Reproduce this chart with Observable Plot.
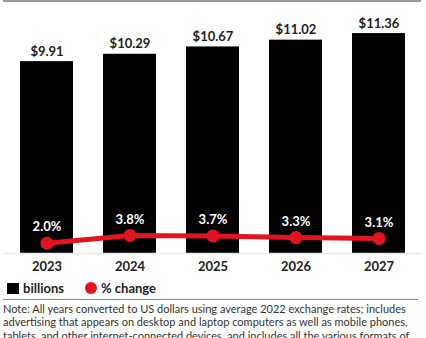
<!DOCTYPE html>
<html>
<head>
<meta charset="utf-8">
<script src="https://cdn.jsdelivr.net/npm/d3@7"></script>
<script src="https://cdn.jsdelivr.net/npm/@observablehq/plot@0.6"></script>
<style>
  body { margin: 0; background: #fff; font-family: Lato, "Open Sans", sans-serif; width: 426px; height: 338px; overflow: hidden; position: relative; }
  #topline { position: absolute; left: 3px; top: 0; width: 418px; height: 2px; background: #9a9a9a; }
  #chart { position: absolute; left: 0; top: 0; }
  #legend { position: absolute; left: 7px; top: 280px; display: flex; align-items: center; font-size: 13px; font-weight: 700; color: #222; }
  .sw { display: inline-block; width: 12px; height: 11px; background: #000; margin-right: 4px; }
  .dotsw { display: inline-block; width: 12px; height: 12px; border-radius: 50%; background: #e3141f; margin-left: 21px; margin-right: 4px; }
  #sep { position: absolute; left: 3px; top: 299px; width: 415px; height: 1px; background: #8c8c8c; }
  #note { position: absolute; left: 3px; top: 302px; width: 420px; font-size: 11px; line-height: 13.3px; color: #333; white-space: nowrap; }
</style>
</head>
<body>
<div id="chart"></div>
<div id="topline"></div>
<div id="legend"><span class="sw"></span><span>billions</span><span class="dotsw"></span><span>% change</span></div>
<div id="sep"></div>
<div id="note"></div>
<script>
const years = ["2023", "2024", "2025", "2026", "2027"];
const billions = [9.91, 10.29, 10.67, 11.02, 11.36];
const pctChange = [2.0, 3.8, 3.7, 3.3, 3.1];
const noteLines = [
  "Note: All years converted to US dollars using average 2022 exchange rates; includes",
  "advertising that appears on desktop and laptop computers as well as mobile phones,",
  "tablets, and other internet-connected devices, and includes all the various formats of"
];

document.getElementById("note").innerHTML = noteLines.join("<br>");

const rows = years.map((y, i) => ({year: y, billions: billions[i], pct: pctChange[i]}));
// secondary (% change) axis mapped onto the billions scale
const pctY = p => (p + 0.4) * 0.222;

const red = "#e3141f";
const chart = Plot.plot({
  width: 426,
  height: 278,
  marginTop: 11,
  marginBottom: 25,
  marginLeft: 4,
  marginRight: 4.5,
  style: {fontFamily: "Lato, sans-serif", background: "transparent"},
  x: {domain: years, paddingInner: 0.365, paddingOuter: 0.183, label: null},
  y: {domain: [0, 12.5], axis: null},
  marks: [
    Plot.barY(rows, {x: "year", y: "billions", fill: "#000"}),
    Plot.ruleY([0], {stroke: "#e4e9f0", strokeWidth: 1.5}),
    Plot.text(rows, {x: "year", y: "billions", text: d => "$" + d.billions.toFixed(2), dy: -10, fontSize: 13, fontWeight: 700, fill: "#222"}),
    Plot.line(rows, {x: "year", y: d => pctY(d.pct), stroke: red, strokeWidth: 5}),
    Plot.dot(rows, {x: "year", y: d => pctY(d.pct), r: 6.5, fill: red}),
    Plot.text(rows, {x: "year", y: d => pctY(d.pct), text: d => d.pct.toFixed(1) + "%", dy: -16, fill: "#fff", fontSize: 13, fontWeight: 700}),
    Plot.axisX({tickSize: 0, tickPadding: 8, fontSize: 13, fontWeight: 700, color: "#222"})
  ]
});
document.getElementById("chart").appendChild(chart);
</script>
</body>
</html>
